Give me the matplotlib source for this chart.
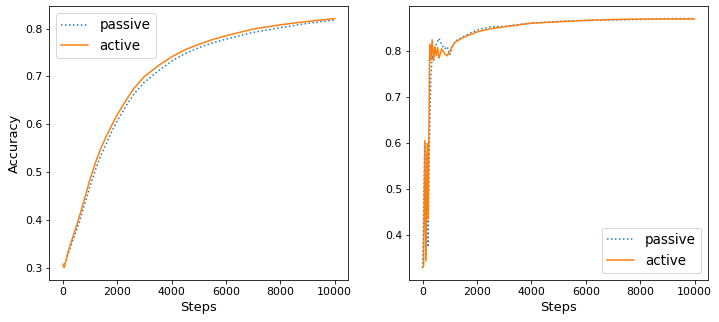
import numpy as np
import matplotlib.pyplot as plt

# left panel
steps_l = [0, 50, 200, 400, 600, 800, 1000, 1200, 1400, 1600, 1800, 2000, 2300, 2600,
           3000, 3500, 4000, 4500, 5000, 5500, 6000, 7000, 8000, 9000, 10000]
active_l = [0.307, 0.300, 0.335, 0.370, 0.405, 0.445, 0.485, 0.520, 0.550, 0.575, 0.598,
            0.620, 0.648, 0.674, 0.700, 0.722, 0.741, 0.756, 0.767, 0.777, 0.785, 0.799,
            0.808, 0.815, 0.821]
passive_l = [0.303, 0.302, 0.330, 0.362, 0.395, 0.432, 0.470, 0.505, 0.535, 0.560, 0.585,
             0.607, 0.636, 0.662, 0.688, 0.711, 0.732, 0.748, 0.760, 0.770, 0.778, 0.792,
             0.802, 0.811, 0.818]

# right panel
steps_ra = [0, 35, 80, 120, 170, 200, 260, 300, 350, 400, 450, 500, 550, 600, 700, 800,
            900, 1000, 1100, 1200, 1500, 2000, 2500, 3000, 3500, 4000, 5000, 6000, 7000,
            8000, 9000, 10000]
active_r = [0.330, 0.333, 0.606, 0.344, 0.600, 0.435, 0.815, 0.780, 0.825, 0.780, 0.810,
            0.790, 0.808, 0.785, 0.805, 0.795, 0.790, 0.800, 0.812, 0.820, 0.830, 0.842,
            0.849, 0.853, 0.857, 0.861, 0.864, 0.867, 0.869, 0.870, 0.870, 0.870]
steps_rp = [0, 80, 120, 170, 200, 250, 300, 350, 400, 450, 500, 600, 700, 800, 900, 1000,
            1100, 1200, 1500, 2000, 2500, 3000, 3500, 4000, 5000, 6000, 7000, 8000, 9000,
            10000]
passive_r = [0.330, 0.600, 0.350, 0.580, 0.374, 0.600, 0.740, 0.790, 0.780, 0.810, 0.815,
             0.828, 0.815, 0.805, 0.810, 0.792, 0.810, 0.822, 0.832, 0.846, 0.853, 0.854,
             0.858, 0.861, 0.865, 0.867, 0.868, 0.869, 0.871, 0.871]

fig = plt.figure(figsize=(719 / 72, 322 / 72), dpi=72)
ax1 = fig.add_axes([0.0686, 0.1304, 0.4158, 0.8506])
ax2 = fig.add_axes([0.5689, 0.1304, 0.4161, 0.8506])

ax1.plot(steps_l, passive_l, ':', color='C0', label='passive')
ax1.plot(steps_l, active_l, '-', color='C1', label='active')
ax1.set_xlabel('Steps', fontsize=13)
ax1.set_ylabel('Accuracy', fontsize=13)
ax1.legend(loc='upper left', fontsize=13.5)

ax2.plot(steps_rp, passive_r, ':', color='C0', label='passive')
ax2.plot(steps_ra, active_r, '-', color='C1', label='active')
ax2.set_xlabel('Steps', fontsize=13)
ax2.legend(loc='lower right', fontsize=13.5)

for ax in (ax1, ax2):
    ax.tick_params(labelsize=11)

fig.savefig('out.png', dpi=72)
